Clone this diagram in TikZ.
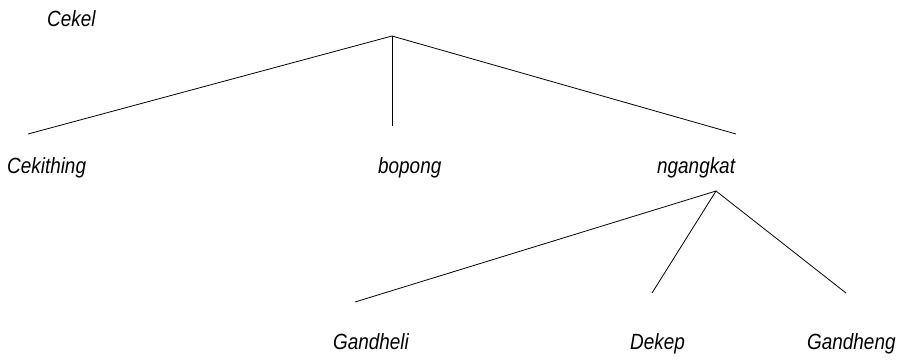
\documentclass[tikz,border=0pt]{standalone}
\usepackage{fontspec}
\setmainfont{Liberation Sans}
\begin{document}
\begin{tikzpicture}[x=1pt,y=-1pt,
  lbl/.style={anchor=base west,inner sep=0pt,xscale=0.86,font=\fontsize{22}{26}\selectfont\itshape},
  edge/.style={draw=black,line width=0.8pt}]
\useasboundingbox (0,0) rectangle (904,359);
% labels
\node[lbl] (cekel) at (47,26) {Cekel};
\node[lbl] (cekithing) at (7,173) {Cekithing};
\node[lbl] (bopong) at (378,173) {bopong};
\node[lbl] (ngangkat) at (657,173) {ngangkat};
\node[lbl] (gandheli) at (333,349) {Gandheli};
\node[lbl] (dekep) at (630,349) {Dekep};
\node[lbl] (gandheng) at (807,349) {Gandheng};
% branch points
\coordinate (top) at (392,36);
\coordinate (e1) at (28,134);
\coordinate (e2) at (392,126);
\coordinate (e3) at (736,134);
\coordinate (mid) at (716,191);
\coordinate (f1) at (355,302);
\coordinate (f2) at (652,293);
\coordinate (f3) at (846,293);
\draw[edge] (top) -- (e1);
\draw[edge] (top) -- (e2);
\draw[edge] (top) -- (e3);
\draw[edge] (mid) -- (f1);
\draw[edge] (mid) -- (f2);
\draw[edge] (mid) -- (f3);
\end{tikzpicture}
\end{document}
